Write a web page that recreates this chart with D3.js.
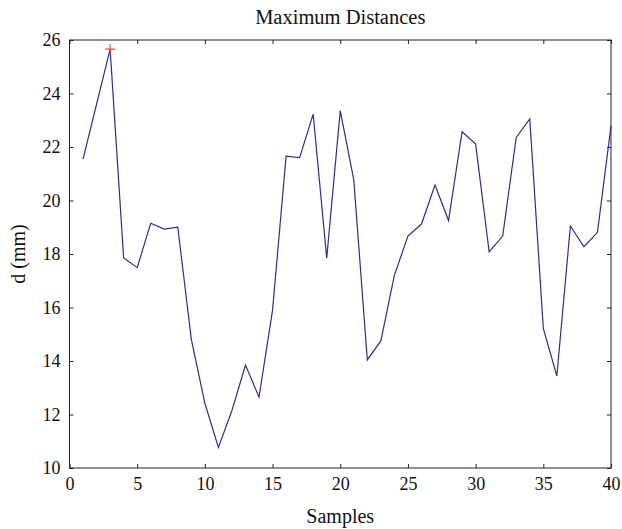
<!DOCTYPE html>
<html>
<head>
<meta charset="utf-8">
<script src="https://cdn.jsdelivr.net/npm/d3@7"></script>
<style>
  body { margin: 0; background: #fff; }
  text { font-family: "Liberation Serif", "DejaVu Serif", serif; fill: #111; }
</style>
</head>
<body>
<div class="chart"></div>
<script>
// samples 1..40
const samples = d3.range(1, 41);
const distances = [
  21.55, 23.6, 25.66, 17.85, 17.49, 19.15, 18.93, 19.0, 14.81, 12.42,
  10.77, 12.15, 13.85, 12.65, 15.9, 21.66, 21.6, 23.23, 17.84, 23.36,
  20.77, 14.04, 14.75, 17.21, 18.67, 19.12, 20.58, 19.25, 22.57, 22.11,
  18.08, 18.67, 22.36, 23.05, 15.22, 13.44, 19.05, 18.27, 18.81, 22.79
];
const xTicks = [0, 5, 10, 15, 20, 25, 30, 35, 40];
const yTicks = [10, 12, 14, 16, 18, 20, 22, 24, 26];
const titleText = "Maximum Distances";
const xLabel = "Samples";
const yLabel = "d (mm)";

const width = 622, height = 529;
const margin = {top: 40, right: 11, bottom: 61, left: 69.5};
const serif = '"Liberation Serif", "DejaVu Serif", serif';

let svg = d3.select(".chart").append("svg")
  .attr("width", width)
  .attr("height", height);

let x = d3.scaleLinear().domain([0, 40]).range([margin.left, width - margin.right]);
let y = d3.scaleLinear().domain([10, 26]).range([height - margin.bottom, margin.top]);

// box
svg.append("rect")
  .attr("x", x(0)).attr("y", y(26))
  .attr("width", x(40) - x(0)).attr("height", y(10) - y(26))
  .attr("fill", "none").attr("stroke", "#222").attr("stroke-width", 1);

let tickLen = 4;
// bottom axis, ticks inward
svg.append("g")
  .attr("transform", `translate(0,${y(10)})`)
  .call(d3.axisBottom(x).tickValues(xTicks).tickSizeInner(-tickLen).tickSizeOuter(0).tickPadding(9));
// top ticks
svg.append("g")
  .attr("transform", `translate(0,${y(26)})`)
  .call(d3.axisTop(x).tickValues(xTicks).tickSizeInner(-tickLen).tickSizeOuter(0).tickFormat(""));
// left axis
svg.append("g")
  .attr("transform", `translate(${x(0)},0)`)
  .call(d3.axisLeft(y).tickValues(yTicks).tickSizeInner(-tickLen).tickSizeOuter(0).tickPadding(9));
// right ticks
svg.append("g")
  .attr("transform", `translate(${x(40)},0)`)
  .call(d3.axisRight(y).tickValues(yTicks).tickSizeInner(-tickLen).tickSizeOuter(0).tickFormat(""));

svg.selectAll("g")
  .attr("font-family", serif)
  .attr("font-size", 18);
svg.selectAll(".domain").remove();
svg.selectAll(".tick line").attr("stroke", "#222");
svg.selectAll(".tick text").attr("fill", "#111");

// data line
let line = d3.line()
  .x((d, i) => x(samples[i]))
  .y(d => y(d));

svg.append("path")
  .datum(distances)
  .attr("d", line)
  .attr("fill", "none")
  .attr("stroke", "#2e2e91")
  .attr("stroke-width", 1.2);

// max marker
let maxI = d3.maxIndex(distances);
let mx = x(samples[maxI]), my = y(distances[maxI]);
svg.append("path")
  .attr("d", `M${mx - 5},${my}H${mx + 5}M${mx},${my - 5}V${my + 5}`)
  .attr("stroke", "#e8483a")
  .attr("stroke-width", 1.1);

// titles
svg.append("text")
  .attr("x", (x(0) + x(40)) / 2)
  .attr("y", 24)
  .attr("text-anchor", "middle")
  .style("font-size", "20.5px")
  .text(titleText);

svg.append("text")
  .attr("x", (x(0) + x(40)) / 2)
  .attr("y", 523)
  .attr("text-anchor", "middle")
  .style("font-size", "20px")
  .text(xLabel);

svg.append("text")
  .attr("transform", `translate(25,${(y(10) + y(26)) / 2}) rotate(-90)`)
  .attr("text-anchor", "middle")
  .style("font-size", "20px")
  .text(yLabel);
</script>
</body>
</html>
